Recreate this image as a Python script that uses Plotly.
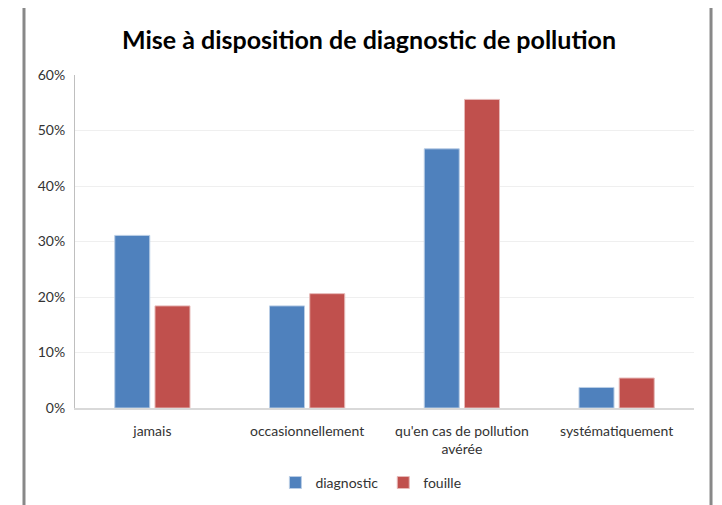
import plotly.graph_objects as go

categories = ["jamais", "occasionnellement", "qu'en cas de pollution<br>avérée", "systématiquement"]
diagnostic = [0.311, 0.184, 0.467, 0.037]
fouille = [0.184, 0.206, 0.556, 0.054]
tick_vals = [0, 0.1, 0.2, 0.3, 0.4, 0.5, 0.6]
tick_text = ["0%", "10%", "20%", "30%", "40%", "50%", "60%"]

FONT = "Lato, Roboto, sans-serif"

fig = go.Figure()
fig.add_trace(go.Bar(name="diagnostic", x=categories, y=diagnostic,
                     marker=dict(color="#4F81BD", line=dict(color="#B9CDE5", width=1))))
fig.add_trace(go.Bar(name="fouille", x=categories, y=fouille,
                     marker=dict(color="#C0504D", line=dict(color="#E6B9B8", width=1))))

fig.update_layout(
    width=722, height=505,
    margin=dict(l=67, r=36, t=67, b=105),
    paper_bgcolor="white", plot_bgcolor="white",
    barmode="group", bargap=0.48, bargroupgap=0.13,
    font=dict(family=FONT, size=14, color="#333333"),
    title=dict(text="<b>Mise à disposition de diagnostic de pollution</b>",
               x=0.5, xanchor="center", y=0.937, yanchor="middle",
               font=dict(family=FONT, size=25, color="black")),
    showlegend=True,
    legend=dict(orientation="h", x=0.478, xanchor="center", y=-0.225, yanchor="middle",
                font=dict(family=FONT, size=14, color="#333333"),
                itemwidth=30, traceorder="normal"),
    yaxis=dict(range=[0, 0.6], tickvals=tick_vals, ticktext=tick_text,
               showgrid=True, gridcolor="#EFEFEF", gridwidth=1,
               showline=True, linecolor="#BFBFBF", linewidth=1,
               ticks="", zeroline=False, ticklabelstandoff=6, automargin=False,
               tickfont=dict(family=FONT, size=14, color="#333333")),
    xaxis=dict(showline=True, linecolor="#D9D9D9", linewidth=2, ticks="", automargin=False,
               ticklabelstandoff=9,
               tickfont=dict(family=FONT, size=14, color="#333333")),
    shapes=[dict(type="rect", xref="paper", yref="paper",
                 x0=-0.0824, x1=1.0275, y0=-0.35, y1=1.21,
                 line=dict(color="#888888", width=3), fillcolor="rgba(0,0,0,0)",
                 layer="above")],
)

fig.write_html("out.html")
